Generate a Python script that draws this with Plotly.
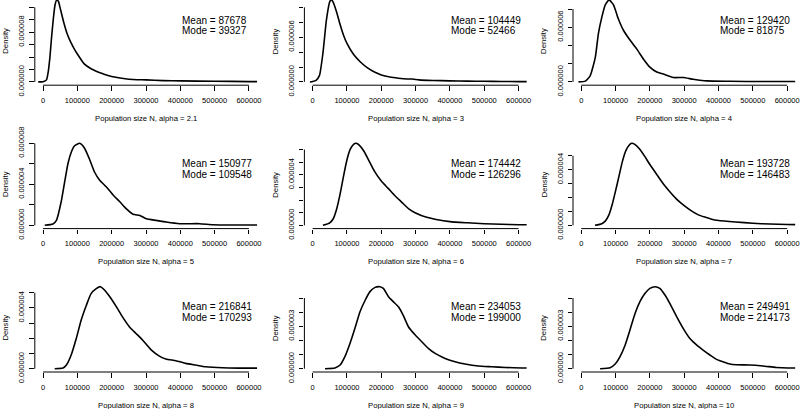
import plotly.graph_objects as go

# ---------------- data ----------------
alphas = ["2.1", "3", "4", "5", "6", "7", "8", "9", "10"]
means = [87678, 104449, 129420, 150977, 174442, 193728, 216841, 234053, 249491]
modes = [39327, 52466, 81875, 109548, 126296, 146483, 170293, 199000, 214173]

x_ticks = [0, 100000, 200000, 300000, 400000, 500000, 600000]
x_tick_labels = ["0", "100000", "200000", "300000", "400000", "500000", "600000"]

# density values are in units of 1e-6
N_a21 = [-14000, 0, 10000, 15000, 20000, 25000, 30000, 35000, 40000, 45000, 50000, 60000, 70000,
         80000, 90000, 100000, 120000, 140000, 160000, 180000, 200000, 250000, 300000, 350000,
         400000, 500000, 600000, 624000]
d_a21 = [0, 0.04, 0.33, 1.58, 3.96, 7.26, 10.16, 12.41, 13.2, 12.94, 11.88, 9.64, 7.79, 6.47,
         5.41, 4.49, 2.9, 2.11, 1.58, 1.19, 0.87, 0.44, 0.33, 0.21, 0.16, 0.11, 0.05, 0.05]

N_a3 = [-8000, 0, 10000, 20000, 30000, 40000, 50000, 55000, 60000, 70000, 80000, 90000, 100000,
        120000, 140000, 160000, 180000, 200000, 225000, 250000, 275000, 290000, 310000, 350000,
        400000, 450000, 500000, 550000, 600000, 624000]
d_a3 = [0, 0.06, 0.22, 0.88, 3.85, 8.25, 10.78, 11.0, 10.67, 9.35, 7.7, 6.27, 5.17, 3.63, 2.64,
        1.87, 1.32, 0.94, 0.66, 0.5, 0.39, 0.39, 0.28, 0.2, 0.14, 0.11, 0.08, 0.06, 0.04, 0.04]

N_a4 = [-8000, 12000, 26000, 41000, 50000, 60000, 70000, 81000, 94000, 108000, 123000, 142000,
        162000, 181000, 200000, 220000, 239000, 268000, 297000, 326000, 365000, 433000, 529000,
        624000]
d_a4 = [0, 0.09, 0.67, 2.7, 5.31, 7.11, 8.46, 9.0, 8.46, 6.93, 5.67, 4.59, 3.6, 2.52, 1.62, 1.08,
        0.86, 0.48, 0.48, 0.3, 0.11, 0.07, 0.04, 0.04]

N_a5 = [5000, 29000, 39000, 53000, 63000, 73000, 83000, 92000, 107000, 121000, 136000, 150000,
        165000, 184000, 204000, 223000, 243000, 262000, 282000, 301000, 330000, 359000, 398000,
        456000, 495000, 553000, 624000]
d_a5 = [0, 0.13, 0.48, 2.32, 4.24, 6.08, 7.2, 7.76, 8.0, 7.52, 6.4, 5.2, 4.4, 3.76, 2.96, 2.32,
        1.6, 1.08, 0.96, 0.64, 0.48, 0.32, 0.16, 0.16, 0.06, 0.03, 0.03]

N_a6 = [30000, 50000, 60000, 70000, 80000, 90000, 100000, 110000, 120000, 127000, 135000, 150000,
        165000, 180000, 200000, 220000, 240000, 260000, 280000, 300000, 330000, 360000, 400000,
        450000, 500000, 550000, 600000, 624000]
d_a6 = [0, 0.2, 0.52, 1.3, 2.47, 3.9, 5.2, 6.05, 6.44, 6.5, 6.37, 5.85, 5.07, 4.29, 3.51, 2.93,
        2.34, 1.82, 1.3, 0.98, 0.65, 0.46, 0.29, 0.2, 0.13, 0.08, 0.05, 0.05]

N_a7 = [40000, 60000, 70000, 80000, 90000, 100000, 110000, 120000, 130000, 140000, 147000, 155000,
        170000, 185000, 200000, 220000, 240000, 260000, 280000, 300000, 320000, 340000, 360000,
        380000, 400000, 450000, 500000, 550000, 600000, 624000]
d_a7 = [0, 0.12, 0.3, 0.71, 1.48, 2.48, 3.54, 4.6, 5.37, 5.78, 5.9, 5.84, 5.49, 4.96, 4.37, 3.66,
        2.95, 2.36, 1.83, 1.42, 1.06, 0.77, 0.59, 0.44, 0.35, 0.24, 0.15, 0.09, 0.06, 0.05]

N_a8 = [34000, 58000, 68000, 82000, 97000, 111000, 126000, 140000, 155000, 167000, 179000, 194000,
        213000, 232000, 252000, 271000, 290000, 315000, 339000, 358000, 387000, 416000, 445000,
        474000, 523000, 571000, 624000]
d_a8 = [0, 0.04, 0.24, 0.9, 2.0, 3.19, 4.16, 4.94, 5.27, 5.4, 5.18, 4.75, 4.1, 3.4, 2.75, 2.32,
        1.89, 1.24, 0.83, 0.64, 0.53, 0.35, 0.24, 0.13, 0.06, 0.04, 0.04]

N_a9 = [36000, 65000, 80000, 94000, 109000, 123000, 138000, 153000, 167000, 182000, 196000, 206000,
        221000, 235000, 250000, 264000, 279000, 299000, 318000, 337000, 357000, 386000, 415000,
        444000, 483000, 522000, 561000, 610000, 624000]
d_a9 = [0, 0.05, 0.26, 0.85, 1.8, 2.84, 4.03, 4.84, 5.45, 5.75, 5.8, 5.68, 5.09, 4.74, 4.38, 3.77,
        2.97, 2.38, 1.91, 1.44, 1.08, 0.73, 0.49, 0.33, 0.19, 0.14, 0.09, 0.05, 0.05]

N_a10 = [55000, 84000, 99000, 113000, 128000, 142000, 157000, 171000, 186000, 200000, 215000,
         229000, 244000, 258000, 278000, 297000, 316000, 336000, 355000, 375000, 394000, 413000,
         433000, 452000, 491000, 529000, 568000, 602000, 624000]
d_a10 = [0, 0.07, 0.33, 0.85, 1.68, 2.74, 3.92, 4.74, 5.33, 5.68, 5.8, 5.68, 5.21, 4.62, 3.68,
         2.85, 2.15, 1.68, 1.32, 0.97, 0.66, 0.49, 0.33, 0.28, 0.26, 0.19, 0.09, 0.05, 0.05]

N_list = [N_a21, N_a3, N_a4, N_a5, N_a6, N_a7, N_a8, N_a9, N_a10]
d_list = [d_a21, d_a3, d_a4, d_a5, d_a6, d_a7, d_a8, d_a9, d_a10]

# y-axis ticks (units of 1e-6) and which of them carry a label
y_ticks = [
    [0, 2, 4, 6, 8, 10, 12],
    [0, 2, 4, 6, 8, 10],
    [0, 2, 4, 6, 8],
    [0, 2, 4, 6, 8],
    [0, 1, 2, 3, 4, 5, 6],
    [0, 1, 2, 3, 4, 5],
    [0, 1, 2, 3, 4, 5],
    [0, 1, 2, 3, 4, 5],
    [0, 1, 2, 3, 4, 5],
]
y_labelled = [[0, 8], [0, 6], [0, 6], [0, 4, 8], [0, 4], [0, 4], [0, 4], [0, 3], [0, 3]]

UNIT = 1e-6

# ---------------- layout geometry (pixels) ----------------
W, H = 800, 409
col_left = [34.8, 304.4, 573.0]
row_top = [-3.4, 140.0, 283.4]
PW, PH = 222.4, 88.6
XLIM = (0, 600000)
FONT = "Liberation Sans, Arial, Helvetica, sans-serif"

fig = go.Figure()
annotations = []
shapes = []

for i in range(9):
    r, c = divmod(i, 3)
    n = "" if i == 0 else str(i + 1)
    L = col_left[c]
    T = row_top[r]
    B = T + PH
    Tv = max(T, 0.0)
    xs = N_list[i]
    ys = [v * UNIT for v in d_list[i]]
    M = max(ys)
    pad_x = 0.04 * (XLIM[1] - XLIM[0])
    xr = [XLIM[0] - pad_x, XLIM[1] + pad_x]
    y_lo, y_hi = -0.04 * M, 1.04 * M
    y_hi_vis = y_hi - (Tv - T) * (y_hi - y_lo) / PH

    fig.add_trace(go.Scatter(
        x=xs, y=ys, mode="lines", xaxis="x" + n, yaxis="y" + n,
        line=dict(color="black", width=1.6, shape="spline", smoothing=0.5),
        hoverinfo="skip", showlegend=False))

    xdom = [L / W, (L + PW) / W]
    ydom = [1 - B / H, 1 - Tv / H]
    yt = [t * UNIT for t in y_ticks[i]]
    ytt = [("%.6f" % (t * UNIT)) if t in y_labelled[i] else "" for t in y_ticks[i]]

    fig.layout["xaxis" + n] = dict(
        domain=xdom, anchor="y" + n, range=xr, showgrid=False, zeroline=False,
        showline=False, ticks="outside", ticklen=4.5, tickwidth=1, tickcolor="black",
        tickvals=x_ticks, ticktext=x_tick_labels, ticklabelstandoff=3, automargin=False,
        tickfont=dict(family=FONT, size=7.5, color="black"))
    fig.layout["yaxis" + n] = dict(
        domain=ydom, anchor="x" + n, range=[y_lo, y_hi_vis], showgrid=False,
        zeroline=False, showline=False, ticks="outside", ticklen=4.5, tickwidth=1,
        tickcolor="black", tickvals=yt, ticktext=ytt, tickangle=-90, automargin=False,
        ticklabelstandoff=2, tickfont=dict(family=FONT, size=7.5, color="black"))

    # R-style axis lines spanning first..last tick
    shapes.append(dict(type="line", xref="x" + n, yref="paper",
                       x0=x_ticks[0], x1=x_ticks[-1], y0=1 - B / H, y1=1 - B / H,
                       line=dict(color="black", width=1)))
    shapes.append(dict(type="line", xref="paper", yref="y" + n,
                       x0=L / W, x1=L / W, y0=yt[0], y1=yt[-1],
                       line=dict(color="black", width=1)))

    # axis titles
    annotations.append(dict(
        text="Population size N, alpha = " + alphas[i], xref="paper", yref="paper",
        x=(L + PW / 2) / W, y=1 - (B + 33) / H, xanchor="center", yanchor="middle",
        showarrow=False, font=dict(family=FONT, size=7.7, color="black")))
    annotations.append(dict(
        text="Density", xref="paper", yref="paper", textangle=-90,
        x=(L - 29) / W, y=1 - (T + PH / 2) / H, xanchor="center", yanchor="middle",
        showarrow=False, font=dict(family=FONT, size=7.7, color="black")))
    # mean / mode text
    annotations.append(dict(
        text="Mean = %d" % means[i], xref="x" + n, yref="paper", x=398000,
        y=1 - (T + 23.4) / H, xanchor="left", yanchor="middle", showarrow=False,
        font=dict(family=FONT, size=10, color="black")))
    annotations.append(dict(
        text="Mode = %d" % modes[i], xref="x" + n, yref="paper", x=398000,
        y=1 - (T + 34.0) / H, xanchor="left", yanchor="middle", showarrow=False,
        font=dict(family=FONT, size=10, color="black")))

fig.update_layout(
    width=W, height=H, margin=dict(l=0, r=0, t=0, b=0, autoexpand=False),
    paper_bgcolor="white", plot_bgcolor="white",
    font=dict(family=FONT, color="black"),
    annotations=annotations, shapes=shapes, showlegend=False)

fig.write_html("out.html", config={"displayModeBar": False},
               post_script="document.body.style.margin='0';document.body.style.padding='0';")
